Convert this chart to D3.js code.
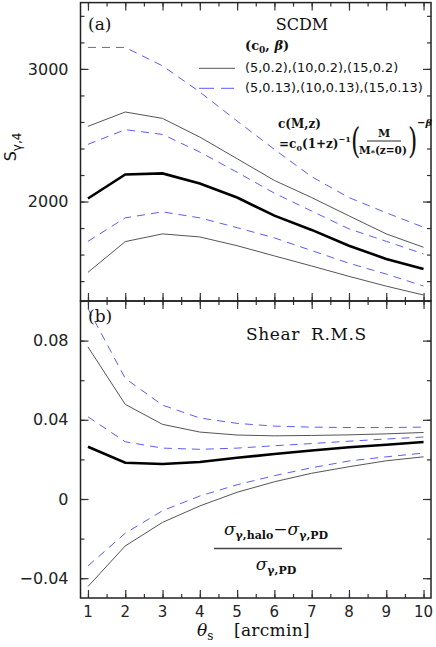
<!DOCTYPE html>
<meta charset="utf-8">
<title>S_gamma,4 and shear rms</title>
<style>
*{ margin: 0; padding: 0; }
body{ background: #fff; }
svg{ display: block; }
.tick text{ font-family: "DejaVu Sans", sans-serif; font-size: 16px; fill: #222; }
.serif{ font-family: "DejaVu Serif", serif; fill: #111; }
.sans{ font-family: "DejaVu Sans", sans-serif; fill: #111; }
</style>
<body>
<script src="https://d3js.org/d3.v7.min.js"></script>
<script>

var width = 436, height = 647;

// theta_s [arcmin]
var theta = [1, 2, 3, 4, 5, 6, 7, 8, 9, 10];

// panel (a) : S_gamma,4
var sMain   = [2023, 2204, 2212, 2136, 2030, 1894, 1786, 1667, 1567, 1491];
var sHi02   = [2567, 2675, 2627, 2486, 2323, 2159, 2030, 1892, 1756, 1655];
var sLo02   = [1466, 1698, 1756, 1733, 1667, 1590, 1514, 1436, 1362, 1295];
var sHi013  = [3162, 3162, 3023, 2826, 2607, 2393, 2187, 2030, 1915, 1806];
var sMid013 = [2431, 2542, 2506, 2373, 2221, 2063, 1928, 1794, 1700, 1605];
var sLo013  = [1700, 1877, 1922, 1877, 1803, 1726, 1630, 1535, 1453, 1363];

// panel (b) : relative shear rms difference
var rMain   = [0.0264, 0.0183, 0.0177, 0.0187, 0.0208, 0.0227, 0.0245, 0.0261, 0.0274, 0.0288];
var rHi02   = [0.0768, 0.0478, 0.0377, 0.0338, 0.0323, 0.0319, 0.0321, 0.0324, 0.0329, 0.0336];
var rLo02   = [-0.0442, -0.0237, -0.0118, -0.0035, 0.0034, 0.0087, 0.0130, 0.0163, 0.0193, 0.0213];
var rHi013  = [0.0962, 0.0609, 0.0474, 0.0409, 0.0382, 0.0368, 0.0363, 0.0361, 0.0361, 0.0363];
var rMid013 = [0.0415, 0.0289, 0.0257, 0.0251, 0.0257, 0.0269, 0.0280, 0.0292, 0.0303, 0.0313];
var rLo013  = [-0.0338, -0.0173, -0.0059, 0.0015, 0.0072, 0.0118, 0.0158, 0.0192, 0.0213, 0.0232];

var xTicks = [1, 2, 3, 4, 5, 6, 7, 8, 9, 10];
var sTicks = [2000, 3000];
var rTicks = [-0.04, 0, 0.04, 0.08];

var blue = '#5c5cf5', grey = '#555';

var left = 80.5, right = 431, topA = 2.6, mid = 301, bottomB = 598;

var svg = d3.select('body').append('svg')
  .attr('width', width)
  .attr('height', height);

var x = d3.scaleLinear().domain([0.8, 10.2]).range([left, right]);
var yA = d3.scaleLinear().domain([1250, 3500]).range([mid, topA]);
var yB = d3.scaleLinear().domain([-0.05, 0.1]).range([bottomB, mid]);

svg.append('clipPath').attr('id', 'clipA')
  .append('rect').attr('x', left).attr('y', topA).attr('width', right - left).attr('height', mid - topA);
svg.append('clipPath').attr('id', 'clipB')
  .append('rect').attr('x', left).attr('y', mid).attr('width', right - left).attr('height', bottomB - mid);

/* inward ticks on all four sides */
function frame(y, yMinor, yMajor, labelFmt){
  var g = svg.append('g');
  var y0 = y.range()[0], y1 = y.range()[1];

  var xMinor = d3.range(1, 10.01, 0.5);
  g.append('g').attr('transform', 'translate(0,' + y0 + ')')
    .call(d3.axisBottom(x).tickValues(xMinor).tickSize(-4).tickFormat(''));
  g.append('g').attr('transform', 'translate(0,' + y1 + ')')
    .call(d3.axisTop(x).tickValues(xMinor).tickSize(-4).tickFormat(''));
  g.append('g').attr('transform', 'translate(0,' + y0 + ')')
    .call(d3.axisBottom(x).tickValues(xTicks).tickSize(-8).tickFormat(''));
  g.append('g').attr('transform', 'translate(0,' + y1 + ')')
    .call(d3.axisTop(x).tickValues(xTicks).tickSize(-8).tickFormat(''));

  g.append('g').attr('transform', 'translate(' + left + ',0)')
    .call(d3.axisLeft(y).tickValues(yMinor).tickSize(-4).tickFormat(''));
  g.append('g').attr('transform', 'translate(' + right + ',0)')
    .call(d3.axisRight(y).tickValues(yMinor).tickSize(-4).tickFormat(''));
  g.append('g').attr('transform', 'translate(' + left + ',0)')
    .call(d3.axisLeft(y).tickValues(yMajor).tickSize(-8).tickPadding(12).tickFormat(labelFmt));
  g.append('g').attr('transform', 'translate(' + right + ',0)')
    .call(d3.axisRight(y).tickValues(yMajor).tickSize(-8).tickFormat(''));

  g.selectAll('.domain').remove();
  g.selectAll('.tick line').attr('stroke', '#333').attr('stroke-width', 1.2);

  svg.append('rect')
    .attr('x', left).attr('y', y1)
    .attr('width', right - left).attr('height', y0 - y1)
    .attr('fill', 'none').attr('stroke', '#222').attr('stroke-width', 1.5);
}

frame(yA, d3.range(1400, 3401, 200), sTicks, d3.format('d'));
frame(yB, d3.range(-0.04, 0.1001, 0.02), rTicks, function(d){
  return d == 0 ? '0' : d3.format('.2f')(d).replace('-', '\u2212');
});

function draw(yScale, values, clip, color, w, dash){
  var line = d3.line()
    .x(function(d, i){ return x(theta[i]); })
    .y(function(d){ return yScale(d); });
  svg.append('path')
    .datum(values)
    .attr('clip-path', 'url(#' + clip + ')')
    .attr('d', line)
    .attr('fill', 'none')
    .attr('stroke', color)
    .attr('stroke-width', w)
    .attr('stroke-dasharray', dash || null);
}

var seriesA = [[sHi02, 0], [sLo02, 0], [sHi013, 1], [sMid013, 1], [sLo013, 1]];
seriesA.forEach(function(s){
  draw(yA, s[0], 'clipA', s[1] ? blue : grey, 1, s[1] ? '8,6' : null);
});
draw(yA, sMain, 'clipA', '#000', 2.6);

var seriesB = [[rHi02, 0], [rLo02, 0], [rHi013, 1], [rMid013, 1], [rLo013, 1]];
seriesB.forEach(function(s){
  draw(yB, s[0], 'clipB', s[1] ? blue : grey, 1, s[1] ? '8,6' : null);
});
draw(yB, rMain, 'clipB', '#000', 2.6);

/* x tick labels */
svg.append('g').selectAll('text')
  .data(xTicks).enter().append('text')
  .attr('class', 'sans')
  .attr('x', function(d){ return x(d); })
  .attr('y', 617)
  .attr('text-anchor', 'middle')
  .attr('font-size', 15)
  .style('fill', '#222')
  .text(function(d){ return d; });

/* axis titles */
var xl = svg.append('text').attr('class', 'serif')
  .attr('x', 197).attr('y', 636).attr('font-size', 17);
xl.append('tspan').attr('font-style', 'italic').text('\u03b8');
xl.append('tspan').attr('font-size', 12).attr('dy', 4).text('s');
xl.append('tspan').attr('dy', -4).attr('x', 234).attr('letter-spacing', 0.3).text('[arcmin]');

var yl = svg.append('text').attr('class', 'sans')
  .attr('transform', 'translate(16,147) rotate(-90)')
  .attr('text-anchor', 'middle').attr('font-size', 16);
yl.append('tspan').text('S');
yl.append('tspan').attr('font-size', 12).attr('dy', 5).text('\u03b3,4');

/* panel (a) annotations */
svg.append('text').attr('class', 'serif').attr('x', 88).attr('y', 30).attr('font-size', 17).text('(a)');
svg.append('text').attr('class', 'serif').attr('x', 302).attr('y', 30).attr('text-anchor', 'middle').attr('font-size', 16).text('SCDM');

var lg = svg.append('text').attr('class', 'serif').attr('x', 245).attr('y', 50).attr('font-size', 13).attr('font-weight', 'bold');
lg.append('tspan').text('(c');
lg.append('tspan').attr('font-size', 9).attr('dy', 3).text('0');
lg.append('tspan').attr('dy', -3).text(', ');
lg.append('tspan').attr('font-style', 'italic').text('\u03b2');
lg.append('tspan').text(')');

svg.append('line').attr('x1', 199).attr('x2', 235).attr('y1', 68.3).attr('y2', 68.3)
  .attr('stroke', grey).attr('stroke-width', 1);
svg.append('text').attr('class', 'sans').attr('x', 245).attr('y', 72).attr('font-size', 12.9)
  .text('(5,0.2),(10,0.2),(15,0.2)');
svg.append('line').attr('x1', 199).attr('x2', 234).attr('y1', 88.3).attr('y2', 88.3)
  .attr('stroke', blue).attr('stroke-width', 1).attr('stroke-dasharray', '15,7');
svg.append('text').attr('class', 'sans').attr('x', 245).attr('y', 92).attr('font-size', 12.9)
  .text('(5,0.13),(10,0.13),(15,0.13)');

// concentration formula
svg.append('text').attr('class', 'serif').attr('x', 278).attr('y', 128).attr('font-size', 12).attr('font-weight', 'bold').text('c(M,z)');
var f1 = svg.append('text').attr('class', 'serif').attr('x', 279).attr('y', 148).attr('font-size', 12).attr('font-weight', 'bold');
f1.append('tspan').text('=c');
f1.append('tspan').attr('font-size', 8).attr('dy', 3).text('0');
f1.append('tspan').attr('dy', -3).text('(1+z)');
f1.append('tspan').attr('font-size', 8).attr('dy', -6).text('\u22121');
svg.append('text').attr('class', 'serif').attr('x', 351).attr('y', 153).attr('font-size', 30).attr('transform', 'translate(351,153) scale(0.8,1.15) translate(-351,-153)').text('(');
svg.append('text').attr('class', 'serif').attr('x', 384).attr('y', 137).attr('text-anchor', 'middle').attr('font-size', 11).attr('font-weight', 'bold').text('M');
svg.append('line').attr('x1', 367).attr('x2', 401).attr('y1', 141).attr('y2', 141).attr('stroke', '#111').attr('stroke-width', 0.9);
var den = svg.append('text').attr('class', 'serif').attr('x', 383).attr('y', 154).attr('text-anchor', 'middle').attr('font-size', 10.5).attr('font-weight', 'bold');
den.append('tspan').text('M');
den.append('tspan').attr('font-size', 8).attr('dy', 1).text('*');
den.append('tspan').attr('dy', -1).text('(z=0)');
svg.append('text').attr('class', 'serif').attr('x', 408).attr('y', 153).attr('font-size', 30).attr('transform', 'translate(408,153) scale(0.8,1.15) translate(-408,-153)').text(')');
var pw = svg.append('text').attr('class', 'serif').attr('x', 417).attr('y', 126).attr('font-size', 10).attr('font-weight', 'bold');
pw.append('tspan').text('\u2212');
pw.append('tspan').attr('font-style', 'italic').text('\u03b2');

/* panel (b) annotations */
svg.append('text').attr('class', 'serif').attr('x', 88).attr('y', 322).attr('font-size', 17).text('(b)');
var sh = svg.append('text').attr('class', 'serif').attr('y', 340).attr('font-size', 17).attr('letter-spacing', 0.6);
sh.append('tspan').attr('x', 246).text('Shear');
sh.append('tspan').attr('x', 311).text('R.M.S');

var num = svg.append('text').attr('class', 'serif').attr('x', 276).attr('y', 535).attr('text-anchor', 'middle').attr('font-size', 17);
num.append('tspan').attr('font-style', 'italic').text('\u03c3');
num.append('tspan').attr('font-size', 11).attr('font-weight', 'bold').attr('dy', 4).text('\u03b3,halo');
num.append('tspan').attr('dy', -4).text('\u2212');
num.append('tspan').attr('font-style', 'italic').text('\u03c3');
num.append('tspan').attr('font-size', 11).attr('font-weight', 'bold').attr('dy', 4).text('\u03b3,PD');
svg.append('line').attr('x1', 214).attr('x2', 342).attr('y1', 548.5).attr('y2', 548.5).attr('stroke', '#444').attr('stroke-width', 1.3);
var dn = svg.append('text').attr('class', 'serif').attr('x', 276).attr('y', 570).attr('text-anchor', 'middle').attr('font-size', 17);
dn.append('tspan').attr('font-style', 'italic').text('\u03c3');
dn.append('tspan').attr('font-size', 11).attr('font-weight', 'bold').attr('dy', 4).text('\u03b3,PD');

</script>
</body>
